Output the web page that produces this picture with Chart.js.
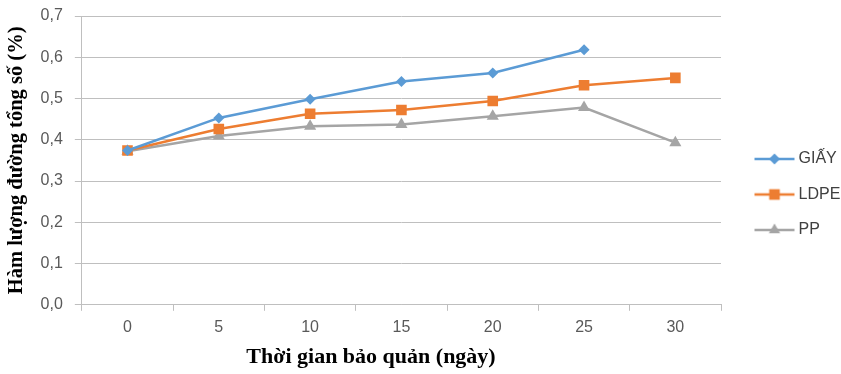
<!DOCTYPE html>
<html>
<head>
<meta charset="utf-8">
<script src="https://cdn.jsdelivr.net/npm/chart.js@4"></script>
<style>
html,body{margin:0;padding:0;background:#fff;}
#wrap{width:841px;height:374px;}
</style>
</head>
<body>
<div id="wrap"><canvas id="c" width="841" height="374"></canvas></div>
<script>
const categories = ["0", "5", "10", "15", "20", "25", "30"];
const giay = [0.374, 0.453, 0.498, 0.541, 0.562, 0.618, null];
const ldpe = [0.374, 0.426, 0.463, 0.472, 0.494, 0.532, 0.550];
const pp   = [0.372, 0.409, 0.433, 0.437, 0.457, 0.478, 0.393];
const seriesNames = ["GIẤY", "LDPE", "PP"];
const yTicks = [0, 0.1, 0.2, 0.3, 0.4, 0.5, 0.6, 0.7];
const xTitle = "Thời gian bảo quản (ngày)";
const yTitle = "Hàm lượng đường tổng số (%)";

const colors = ["#5B9BD5", "#ED7D31", "#A5A5A5"];
const styles = ["rectRot", "rect", "triangle"];
const radii = [5.5, 7.5, 7];

function legendIcon(color, style) {
  const W = 60, H = 16, cx = 39, cy = 8;
  const cv = document.createElement('canvas');
  cv.width = W; cv.height = H;
  const ctx = cv.getContext('2d');
  ctx.strokeStyle = color; ctx.fillStyle = color; ctx.lineWidth = 2.5;
  ctx.beginPath(); ctx.moveTo(19, cy); ctx.lineTo(59, cy); ctx.stroke();
  ctx.beginPath();
  if (style === 'rectRot') {
    const r = 5.5;
    ctx.moveTo(cx, cy - r); ctx.lineTo(cx + r, cy); ctx.lineTo(cx, cy + r); ctx.lineTo(cx - r, cy); ctx.closePath();
  } else if (style === 'rect') {
    const r = 5.3;
    ctx.rect(cx - r, cy - r, 2 * r, 2 * r);
  } else {
    const r = 6.5;
    ctx.moveTo(cx, cy - r); ctx.lineTo(cx + r * 0.87, cy + r * 0.5); ctx.lineTo(cx - r * 0.87, cy + r * 0.5); ctx.closePath();
  }
  ctx.fill();
  return cv;
}
const icons = colors.map((c, i) => legendIcon(c, styles[i]));

const xTitlePlugin = {
  id: 'xTitle',
  afterDraw(chart) {
    const ctx = chart.ctx;
    ctx.save();
    ctx.font = "bold 22px 'Liberation Serif', 'Times New Roman', serif";
    ctx.fillStyle = '#000';
    ctx.textAlign = 'center';
    ctx.textBaseline = 'middle';
    ctx.fillText(xTitle, 371, 357);
    ctx.restore();
  }
};

const data = {
  labels: categories,
  datasets: [giay, ldpe, pp].map((d, i) => ({
    label: seriesNames[i],
    data: d,
    borderColor: colors[i],
    backgroundColor: colors[i],
    borderWidth: 2.5,
    pointStyle: styles[i],
    pointRadius: radii[i],
    pointBorderWidth: 0,
    pointBackgroundColor: colors[i],
    tension: 0,
    spanGaps: false
  }))
};

new Chart(document.getElementById('c'), {
  type: 'line',
  data: data,
  plugins: [xTitlePlugin],
  options: {
    responsive: false,
    animation: false,
    devicePixelRatio: 1,
    layout: { padding: { left: 4, top: 4, right: 0, bottom: 30 } },
    plugins: {
      tooltip: { enabled: false },
      legend: {
        position: 'right',
        align: 'center',
        maxWidth: 120,
        title: { display: true, text: '', padding: { top: 32, bottom: 0 }, font: { size: 7.5 } },
        labels: {
          usePointStyle: true,
          pointStyleWidth: 50,
          boxHeight: 15,
          padding: 19.5,
          color: '#404040',
          font: { family: "'Liberation Sans', Arial, sans-serif", size: 16 },
          generateLabels: (chart) => chart.data.datasets.map((ds, i) => ({
            text: ds.label,
            pointStyle: icons[i],
            fillStyle: ds.borderColor,
            strokeStyle: ds.borderColor,
            lineWidth: 0,
            hidden: false,
            datasetIndex: i,
            fontColor: '#404040'
          }))
        }
      }
    },
    scales: {
      x: {
        offset: true,
        grid: { display: true, offset: true, drawOnChartArea: false, drawTicks: true, tickLength: 6, color: '#bfbfbf' },
        border: { display: true, color: '#bfbfbf', width: 1 },
        ticks: { color: '#595959', font: { family: "'Liberation Sans', Arial, sans-serif", size: 16 }, padding: 7, maxRotation: 0 },
        title: { display: false }
      },
      y: {
        min: 0,
        max: 0.7,
        afterBuildTicks: (axis) => { axis.ticks = yTicks.map(v => ({ value: v })); },
        afterFit: (scale) => { scale.paddingTop = 16; },
        grid: { color: '#bfbfbf', tickLength: 7, drawTicks: true },
        border: { display: true, color: '#bfbfbf', width: 1 },
        ticks: {
          color: '#595959',
          font: { family: "'Liberation Sans', Arial, sans-serif", size: 16 },
          padding: 12,
          callback: (v) => Number(v).toFixed(1).replace('.', ',')
        },
        title: {
          display: true,
          text: yTitle,
          color: '#000',
          font: { family: "'Liberation Serif', 'Times New Roman', serif", size: 20.5, weight: 'bold' },
          padding: { top: 0, bottom: 0 }
        }
      }
    }
  }
});
</script>
</body>
</html>
